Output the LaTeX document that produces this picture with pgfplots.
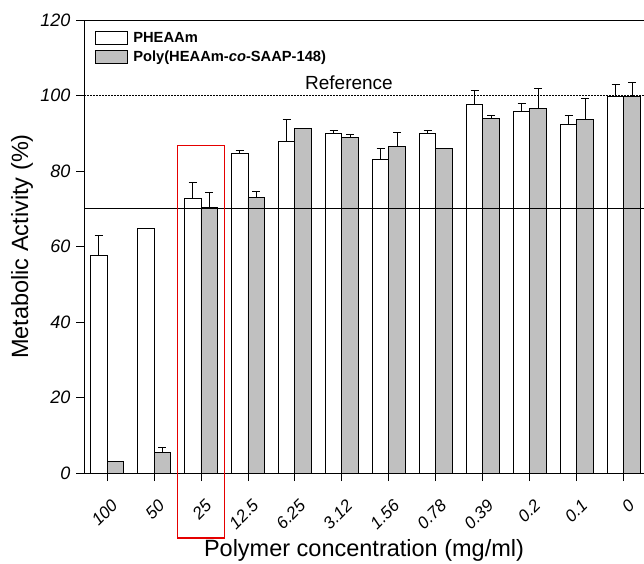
\documentclass[border=0pt]{standalone}
\usepackage{fontspec}
\setmainfont{Liberation Sans}
\usepackage{pgfplots}
\usepackage{pgfplotstable}
\pgfplotsset{compat=1.18}
\definecolor{bargray}{HTML}{C0C0C0}

% x: category index, w/werr: PHEAAm, g/gerr: Poly(HEAAm-co-SAAP-148)
\pgfplotstableread{
x w werr g gerr
0 57.5 5.5 3.0 0
1 64.8 0 5.5 1.2
2 72.7 4.2 70.3 4.1
3 84.7 0.8 72.9 1.6
4 87.8 5.9 91.2 0
5 90.0 0.7 89.0 0.8
6 83.1 3.0 86.4 3.8
7 90.0 0.7 86.0 0
8 97.6 3.8 94.0 0.6
9 95.8 2.0 96.6 5.4
10 92.2 2.4 93.6 5.5
11 99.8 3.2 99.8 3.6
}\datatable

\begin{document}
\begin{tikzpicture}
\begin{axis}[
    scale only axis,
    width=560pt, height=453pt,
    ybar=0pt,
    bar width=16.6pt,
    xmin=-0.49, xmax=11.43,
    ymin=0, ymax=120,
    ytick={0,20,...,120},
    xtick={0,...,11},
    xticklabels={100,50,25,12.5,6.25,3.12,1.56,0.78,0.39,0.2,0.1,0},
    axis lines=left,
    axis line style={-, line width=0.9pt},
    tick align=outside,
    major tick length=8pt,
    tick style={line width=0.9pt, black},
    clip=false,
    /pgf/number format/assume math mode=true,
    yticklabel style={font=\fontsize{18}{20}\selectfont\itshape, xshift=-2pt},
    xticklabel style={font=\fontsize{17}{19}\selectfont\itshape, xshift=10pt, yshift=-19pt, rotate=45, anchor=east},
    xlabel={Polymer concentration (mg/ml)},
    ylabel={Metabolic Activity (\%)},
    xlabel style={font=\fontsize{23.5}{27}\selectfont, at={(rel axis cs:0.5,0)}, anchor=center, yshift=-77pt},
    ylabel style={font=\fontsize{23.5}{27}\selectfont, at={(rel axis cs:0,0.5)}, anchor=center, yshift=62pt},
    legend style={draw=none, fill=none, at={(rel axis cs:0.02,0.978)}, anchor=north west,
        font=\fontsize{14.7}{17}\selectfont\bfseries, row sep=3pt, inner sep=0pt,
        /tikz/every odd column/.append style={column sep=3pt}},
    legend image code/.code={\draw[#1, line width=0.9pt] (0pt,-6.5pt) rectangle (32pt,6.5pt);},
    legend cell align=left,
    error bars/error bar style={line width=0.9pt, black},
    error bars/error mark options={line width=0.9pt, black, mark size=4pt, rotate=90},
]
\addplot[draw=black, line width=0.9pt, fill=white,
    error bars/.cd, y dir=plus, y explicit]
    table[x=x, y=w, y error=werr] {\datatable};
\addplot[draw=black, line width=0.9pt, fill=bargray,
    error bars/.cd, y dir=plus, y explicit]
    table[x=x, y=g, y error=gerr] {\datatable};
\legend{PHEAAm, Poly(HEAAm-\textit{co}-SAAP-148)}
\draw[line width=0.9pt] (rel axis cs:0,1) -- (rel axis cs:1,1);
\draw[line width=1.6pt, dash pattern=on 1.5pt off 1.5pt] (axis cs:-0.49,100) -- (axis cs:11.43,100);
\draw[line width=0.8pt] (axis cs:-0.49,70) -- (axis cs:11.43,70);
\node[font=\fontsize{19}{22}\selectfont, anchor=south] at (axis cs:5.15,100.6) {Reference};
\draw[red!90!black, line width=1.3pt] (axis cs:1.5,86.7) rectangle (axis cs:2.5,-17.2);
\end{axis}
\pgfresetboundingbox
\path ([xshift=-84pt,yshift=-90pt]current axis.south west) rectangle ([yshift=20pt]current axis.north east);
\end{tikzpicture}
\end{document}
